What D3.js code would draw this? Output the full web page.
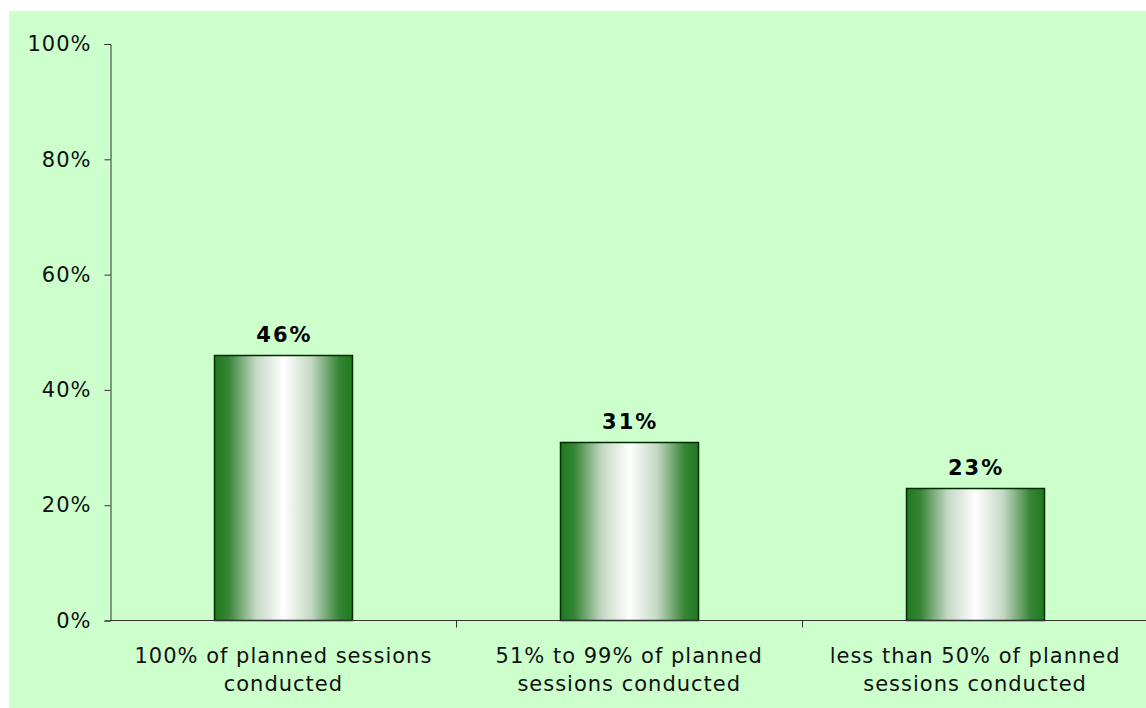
<!DOCTYPE html>
<html>
<head>
<meta charset="utf-8">
<script src="https://cdn.jsdelivr.net/npm/d3@7"></script>
<style>
  html, body { margin: 0; padding: 0; background: #ffffff; }
  svg { display: block; }
</style>
</head>
<body>
<svg id="chart" width="1146" height="708"></svg>
<script>
// Share of groups by proportion of planned sessions conducted
const categories = [
  ["100% of planned sessions", "conducted"],
  ["51% to 99% of planned", "sessions conducted"],
  ["less than 50% of planned", "sessions conducted"]
];
const values = [0.46, 0.31, 0.23];
const valueLabels = ["46%", "31%", "23%"];
const yTicks = [0, 0.2, 0.4, 0.6, 0.8, 1.0];

const svg = d3.select("#chart");
const W = 1146, H = 708;
const font = "'DejaVu Sans', Verdana, sans-serif";

// plot-area background
svg.append("rect")
  .attr("x", 9).attr("y", 11)
  .attr("width", W - 9).attr("height", H - 11)
  .attr("fill", "#ccffcc");

// bar gradient: dark green edges, white centre
const defs = svg.append("defs");
const grad = defs.append("linearGradient")
  .attr("id", "barGrad")
  .attr("x1", "0%").attr("x2", "100%").attr("y1", "0%").attr("y2", "0%");
[
  [0, "#1e7a1e"], [0.1, "#358535"], [0.3, "#c4d8c4"], [0.5, "#ffffff"],
  [0.7, "#c4d8c4"], [0.9, "#358535"], [1, "#1e7a1e"]
].forEach(([o, c]) => grad.append("stop").attr("offset", o).attr("stop-color", c));

const x0 = 110.5, x1 = 1148, yTop = 44, yBot = 620.5;

const x = d3.scaleBand()
  .domain(d3.range(categories.length))
  .range([x0, x1])
  .paddingInner(0.6)
  .paddingOuter(0.3);

const y = d3.scaleLinear().domain([0, 1]).range([yBot, yTop]);

// bars
svg.selectAll("rect.bar")
  .data(values)
  .enter().append("rect")
  .attr("class", "bar")
  .attr("x", (d, i) => Math.round(x(i)) + 0.5)
  .attr("y", d => Math.round(y(d)) + 0.5)
  .attr("width", Math.round(x.bandwidth()))
  .attr("height", d => yBot - Math.round(y(d)) - 0.5)
  .attr("fill", "url(#barGrad)")
  .attr("stroke", "#002a00")
  .attr("stroke-width", 1.5);

// value labels
svg.selectAll("text.val")
  .data(values)
  .enter().append("text")
  .attr("class", "val")
  .attr("x", (d, i) => x(i) + x.bandwidth() / 2 + 1)
  .attr("y", d => y(d) - 13)
  .attr("text-anchor", "middle")
  .attr("font-family", font)
  .attr("font-weight", "bold")
  .attr("font-size", 21)
  .attr("letter-spacing", 2)
  .attr("fill", "#000")
  .text((d, i) => valueLabels[i]);

// y axis
const yAxis = d3.axisLeft(y)
  .tickValues(yTicks)
  .tickFormat(d3.format(".0%"))
  .tickSize(6)
  .tickPadding(13);
const gy = svg.append("g")
  .attr("transform", `translate(${x0},0)`)
  .call(yAxis);
gy.select(".domain").attr("stroke", "#333");
gy.selectAll(".tick line").attr("stroke", "#333");
gy.selectAll(".tick text")
  .attr("font-family", font).attr("font-size", 21)
  .attr("letter-spacing", 1).attr("fill", "#111");

// x axis: line with category boundary ticks
const step = x.step();
const boundaries = d3.range(1, categories.length).map(i => x(i) - x.paddingInner() * step / 2);
svg.append("line")
  .attr("x1", x0).attr("x2", W).attr("y1", yBot).attr("y2", yBot)
  .attr("stroke", "#333");
svg.selectAll("line.xtick")
  .data(boundaries)
  .enter().append("line")
  .attr("class", "xtick")
  .attr("x1", d => Math.round(d) + 0.5).attr("x2", d => Math.round(d) + 0.5)
  .attr("y1", yBot).attr("y2", yBot + 7)
  .attr("stroke", "#333");

// category labels (two lines each)
const cl = svg.selectAll("text.cat")
  .data(categories)
  .enter().append("text")
  .attr("class", "cat")
  .attr("text-anchor", "middle")
  .attr("font-family", font)
  .attr("font-size", 21)
  .attr("letter-spacing", 1)
  .attr("fill", "#111");
cl.each(function(lines, i) {
  const t = d3.select(this);
  lines.forEach((ln, k) => {
    t.append("tspan")
      .attr("x", x(i) + x.bandwidth() / 2)
      .attr("y", 663 + k * 28)
      .text(ln);
  });
});
</script>
</body>
</html>
